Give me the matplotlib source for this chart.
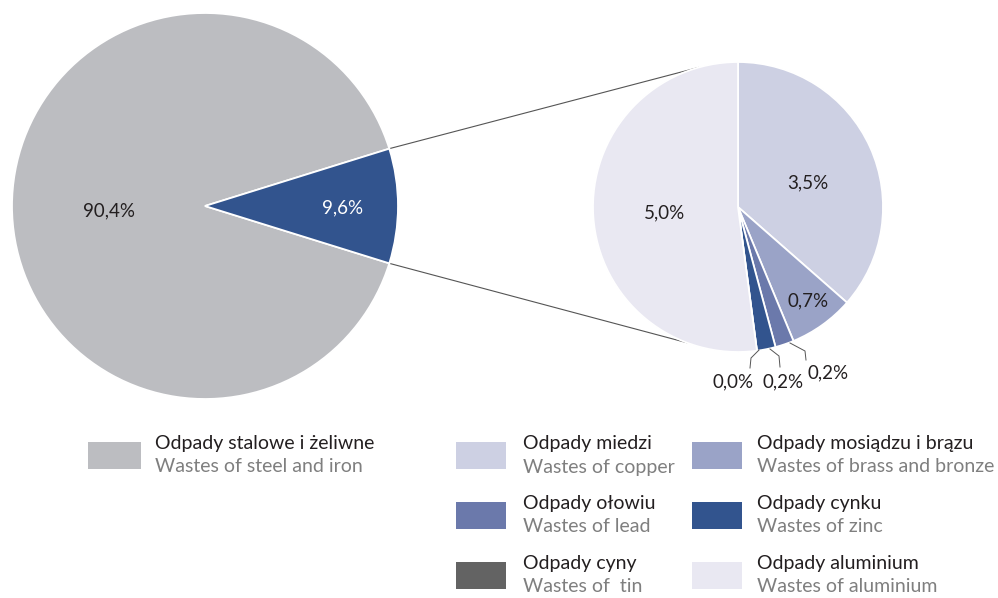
import numpy as np
import matplotlib
matplotlib.use("Agg")
import matplotlib.pyplot as plt
from matplotlib.patches import Rectangle

# ---- data ----
main_labels_pl = ["Odpady stalowe i żeliwne", "Odpady metali nieżelaznych"]
main_values = [90.4, 9.6]
main_text = ["90,4%", "9,6%"]

sub_labels_pl = ["Odpady miedzi", "Odpady mosiądzu i brązu", "Odpady ołowiu",
                 "Odpady cynku", "Odpady cyny", "Odpady aluminium"]
sub_labels_en = ["Wastes of copper", "Wastes of brass and bronze", "Wastes of lead",
                 "Wastes of zinc", "Wastes of  tin", "Wastes of aluminium"]
sub_values = [3.5, 0.7, 0.2, 0.2, 0.0, 5.0]
sub_text = ["3,5%", "0,7%", "0,2%", "0,2%", "0,0%", "5,0%"]

steel_pl = "Odpady stalowe i żeliwne"
steel_en = "Wastes of steel and iron"

# ---- style ----
main_colors = ["#bcbdc1", "#32548e"]
sub_colors = ["#cdd0e3", "#9aa3c7", "#6b79ab", "#32548e", "#636363", "#e9e8f2"]
FONT = "Lato"
DARK = "#231f20"
GREY = "#7f7f7f"
LFS = 14.0   # legend font size
PFS = 13.5   # pie label font size

W, H = 998, 598
fig = plt.figure(figsize=(W / 100, H / 100), dpi=100)
ax = fig.add_axes([0, 0, 1, 1])

def Y(py):
    return H - py

# left pie
c1 = (205, Y(206)); r1 = 193
half = 360 * main_values[1] / sum(main_values) / 2
ax.pie(main_values, colors=main_colors, startangle=half, counterclock=True,
       center=c1, radius=r1, frame=True,
       wedgeprops=dict(edgecolor="white", linewidth=1.3))

# right pie
c2 = (738, Y(207)); r2 = 145
ax.pie(sub_values, colors=sub_colors, startangle=90, counterclock=False,
       center=c2, radius=r2, frame=True,
       wedgeprops=dict(edgecolor="white", linewidth=1.3))
ax.set_xlim(0, W)
ax.set_ylim(0, H)
ax.set_aspect("equal")
ax.axis("off")

# connecting lines
for sgn, ang2 in [(1, 105.8), (-1, -110.6)]:
    a1 = np.deg2rad(sgn * half)
    p1 = (c1[0] + r1 * np.cos(a1), c1[1] + r1 * np.sin(a1))
    a2 = np.deg2rad(ang2)
    p2 = (c2[0] + r2 * np.cos(a2), c2[1] + r2 * np.sin(a2))
    ax.plot([p1[0], p2[0]], [p1[1], p2[1]], color="#555555", lw=0.8, zorder=0)

# labels main
ax.text(109, Y(211), main_text[0], ha="center", va="center", fontsize=PFS,
        family=FONT, color=DARK)
ax.text(343, Y(208), main_text[1], ha="center", va="center", fontsize=PFS,
        family=FONT, color="white")

# labels sub (inside)
inside_pos = {0: (808, 183), 1: (808, 301), 5: (665, 213)}
for i, (x, y) in inside_pos.items():
    ax.text(x, Y(y), sub_text[i], ha="center", va="center", fontsize=PFS,
            family=FONT, color=DARK)

# leader lines for small slices
leaders = {
    2: [(790, 343), (805, 351), (806, 360)],
    3: [(770, 349), (779, 356), (780, 367)],
    4: [(759, 350), (751, 358), (750, 368)],
}
leader_text = {2: (828, 373), 3: (783, 382), 4: (733, 382)}
for i, pts in leaders.items():
    xs = [p[0] for p in pts]; ys = [Y(p[1]) for p in pts]
    ax.plot(xs, ys, color="#555555", lw=0.7)
    x, y = leader_text[i]
    ax.text(x, Y(y), sub_text[i], ha="center", va="center", fontsize=PFS,
            family=FONT, color=DARK)

# legend
def legend_item(x0, y0, w, h, color, t1, t2, tx):
    ax.add_patch(Rectangle((x0, Y(y0 + h)), w, h, facecolor=color, edgecolor="none"))
    ax.text(tx, Y(y0 + 1), t1, ha="left", va="center", fontsize=LFS,
            family=FONT, color=DARK)
    ax.text(tx, Y(y0 + 25), t2, ha="left", va="center", fontsize=LFS,
            family=FONT, color=GREY)

legend_item(88, 442, 53, 27, main_colors[0], steel_pl, steel_en, 155)

col_x = [(456, 523), (692, 757)]
row_y = [442, 502, 562]
order = [(0, 0, 0), (1, 0, 1), (2, 1, 0), (3, 1, 1), (4, 2, 0), (5, 2, 1)]
for idx, r, c in order:
    sx, tx = col_x[c]
    legend_item(sx, row_y[r], 50, 27, sub_colors[idx], sub_labels_pl[idx],
                sub_labels_en[idx], tx)

fig.savefig("out.png", dpi=100)
